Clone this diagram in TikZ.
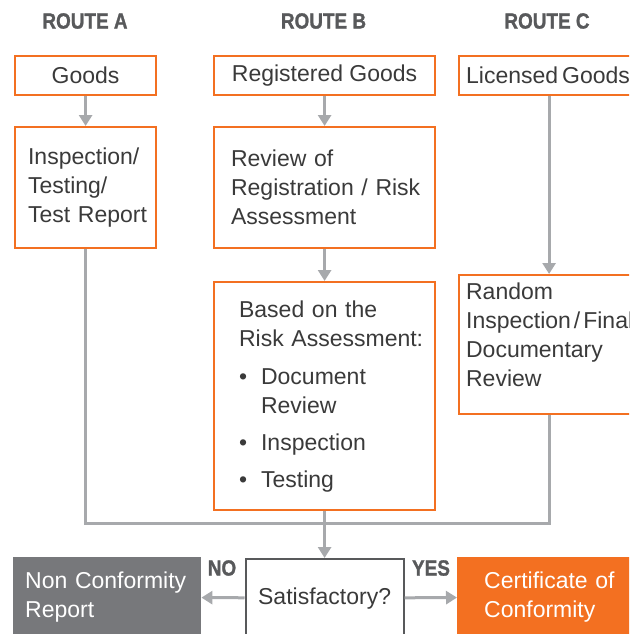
\documentclass[tikz,border=0pt]{standalone}
\usepackage{fontspec}
\setmainfont{Liberation Sans}
\newfontfamily\routefont[FakeStretch=0.86,FakeBold=1.2]{Liberation Sans Bold}
\usetikzlibrary{arrows.meta}
\definecolor{routeorange}{HTML}{F37021}
\definecolor{routegray}{HTML}{77787B}
\definecolor{linkgray}{HTML}{A7A9AC}
\definecolor{inkgray}{HTML}{3A3A3A}
\definecolor{headgray}{HTML}{58595B}
\hyphenpenalty=10000
\exhyphenpenalty=10000
\hbadness=10000
\hfuzz=100pt
\newcommand{\bodysize}{\fontsize{23}{29}\selectfont}
\newcommand{\bitem}[1]{\makebox[22pt][l]{\textbullet}#1}
\tikzset{box/.style={draw=routeorange, line width=2.2pt, inner ysep=0pt, font=\bodysize, text=inkgray}}
\tikzset{endbox/.style={fill=#1, inner ysep=0pt, font=\bodysize, text=white, align=left}}
\tikzset{head/.style={font=\routefont\fontsize{22}{26}\selectfont, text=headgray}}
\tikzset{flow/.style={-{Triangle[width=13pt,length=11pt]}, draw=linkgray, line width=3pt}}
\tikzset{link/.style={draw=linkgray, line width=3pt}}

\begin{document}
\begin{tikzpicture}[x=1pt, y=-1pt]
  \useasboundingbox (0,0) rectangle (629,634);
  \clip (0,0) rectangle (629,634);

  % headings
  \node[head] (headA) at (85,21) {ROUTE A};
  \node[head] (headB) at (323.5,21) {ROUTE B};
  \node[head] (headC) at (547,21) {ROUTE C};

  % goods
  \node[box, anchor=north west, minimum width=180pt, minimum height=39pt, text width=166pt, inner xsep=7pt, align=left] (lic) at (458,55) {\mbox{Licensed\hspace{4pt}Goods}};
  \node[box, anchor=north west, minimum width=141pt, minimum height=39pt] (goods) at (14,55) {Goods};
  \node[box, anchor=north west, minimum width=221pt, minimum height=39pt] (reg) at (213,55) {Registered Goods};

  % checks
  \node[box, anchor=north west, minimum width=141pt, minimum height=121pt, text width=115pt, inner xsep=13pt, align=left] (insp) at (14,126) {Inspection/\\Testing/\\Test~Report};
  \node[box, anchor=north west, minimum width=221pt, minimum height=121pt, text width=187pt, inner xsep=17pt, align=left] (review) at (213,126) {Review~of\\Registration~/~Risk\\Assessment};
  \node[box, anchor=north west, minimum width=221pt, minimum height=228pt, text width=171pt, inner xsep=25pt, align=left] (based) at (213,281)
    {Based~on~the\\Risk~Assessment:\\[9pt]\bitem{Document}\\\hspace*{22pt}Review\\[8pt]\bitem{Inspection}\\[8pt]\bitem{Testing}};
  \node[box, anchor=north west, minimum width=180pt, minimum height=139pt, text width=166pt, inner xsep=7pt, text depth=106pt, align=left] (rand) at (458,274) {Random\\\mbox{Inspection\hspace{3pt}/\hspace{3pt}Final}\\Documentary\\Review};

  % decision
  \node[box, draw=headgray, anchor=north west, minimum width=158pt, minimum height=78pt] (sat) at (244.5,558) {Satisfactory?};
  \node[endbox=routegray, anchor=north west, minimum width=188pt, minimum height=80pt, text width=164pt, inner xsep=12pt] (ncr) at (13,557) {Non~Conformity\\Report};
  \node[endbox=routeorange, anchor=north west, minimum width=190pt, minimum height=80pt, text width=136pt, inner xsep=27pt] (cert) at (457,557) {Certificate~of\\Conformity};
  \node[head] (no) at (222,568) {NO};
  \node[head] (yes) at (431,568) {YES};

  \draw[flow] (goods) -- (insp);
  \draw[flow] (reg) -- (review);
  \draw[flow] (review) -- (based);
  \draw[flow] (lic) -- (rand);
  \coordinate (join) at (323.5,523);
  \draw[link] (insp) |- (join) -| (rand);
  \draw[flow] (based) -- (sat);
  \draw[flow] (sat) -- (ncr);
  \draw[flow] (sat) -- (cert);
\end{tikzpicture}
\end{document}
